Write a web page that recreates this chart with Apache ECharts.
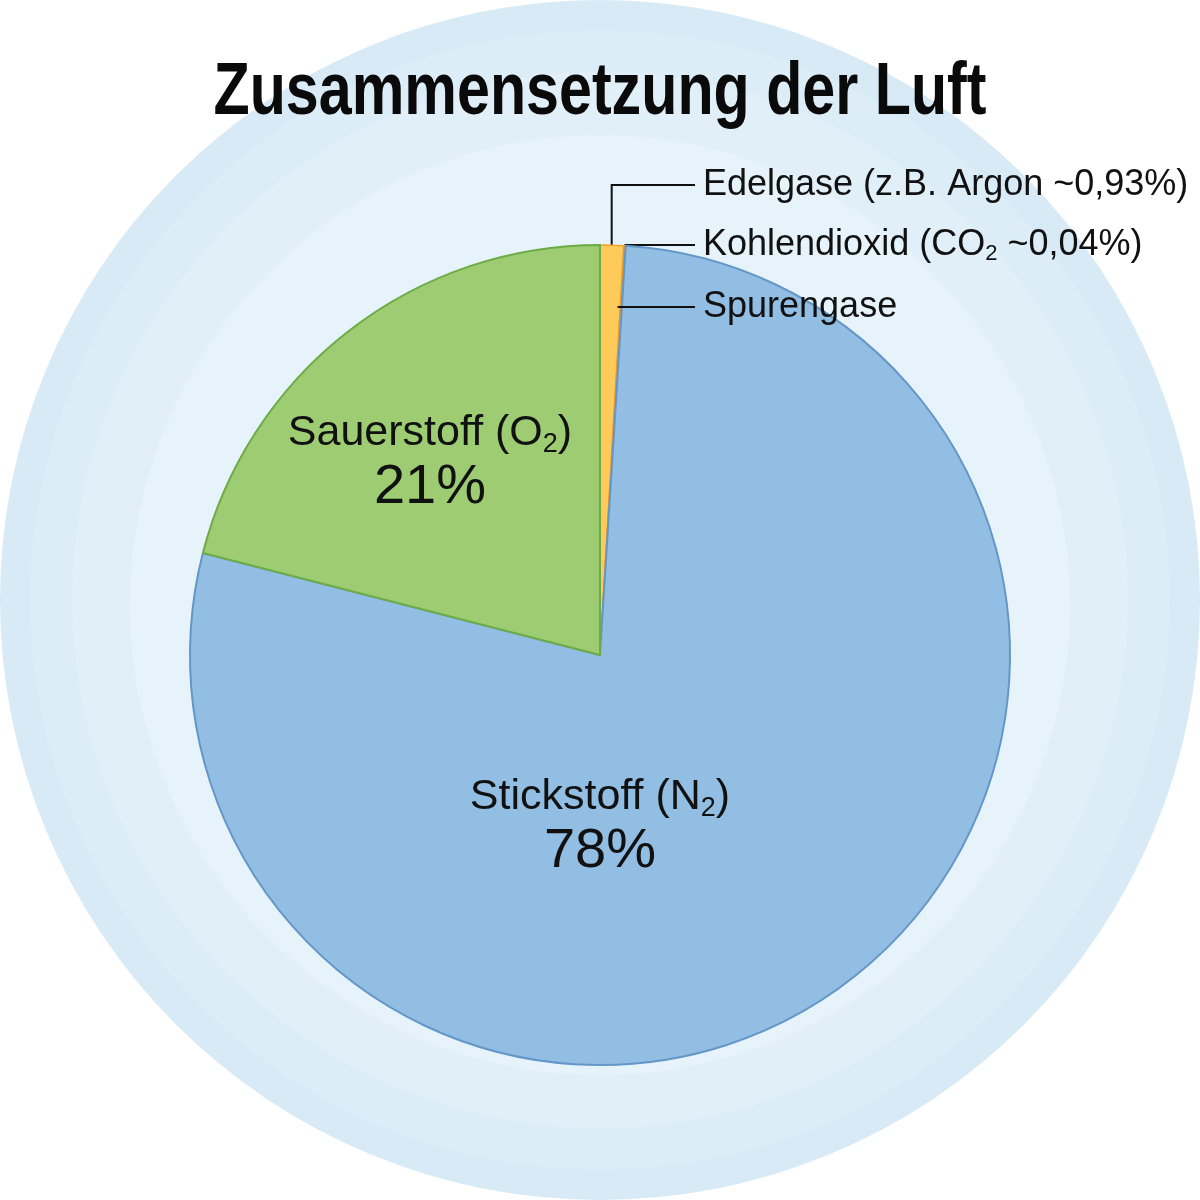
<!DOCTYPE html>
<html>
<head>
<meta charset="utf-8">
<title>Zusammensetzung der Luft</title>
<script src="https://cdn.jsdelivr.net/npm/echarts@6/dist/echarts.min.js"></script>
<style>
  html, body { margin: 0; padding: 0; background: #fff; }
  #chart { width: 1200px; height: 1200px; }
</style>
</head>
<body>
<div id="chart"></div>
<script>
// Werte (Volumenanteil in %), im Uhrzeigersinn ab 12 Uhr
var gasNames = ['Edelgase', 'Kohlendioxid', 'Spurengase', 'Stickstoff', 'Sauerstoff'];
var gasValues = [0.93, 0.04, 0.03, 78, 21];
var gasColors = ['#fecb5a', '#f4ab3a', '#f6b440', '#93bee4', '#9dcc72'];
var gasBorders = ['#efa431', '#e8962a', '#e8962a', '#6497c8', '#6cab46'];
// Beschriftungen, "_2" = tiefgestellte 2
var gasLabels = [
  'Edelgase (z.B. Argon ~0,93%)',
  'Kohlendioxid (CO_2 ~0,04%)',
  'Spurengase',
  'Stickstoff (N_2)',
  'Sauerstoff (O_2)'
];

var FONT = '"Liberation Sans", Arial, Helvetica, sans-serif';
var cx = 600, cy = 655, R = 410;
var labelX = 703;
var labelY = [185, 245, 307];

function richText(str) {
  return '{n|' + str.replace('_2', '}{s|2}{n|') + '}';
}

var total = gasValues.reduce(function (a, b) { return a + b; }, 0);
function midAngle(i) {
  var before = 0;
  for (var k = 0; k < i; k++) before += gasValues[k];
  return (before + gasValues[i] / 2) / total * Math.PI * 2;
}

// Punkt auf der Winkelhalbierenden eines Segments bei gegebener Höhe y
function pointAtY(i, y) {
  var a = midAngle(i);
  var r = (cy - y) / Math.cos(a);
  return [cx + r * Math.sin(a), y];
}

var data = gasNames.map(function (name, i) {
  var inner = i >= 3;
  return {
    name: name,
    value: gasValues[i],
    itemStyle: { color: gasColors[i], borderColor: gasBorders[i], borderWidth: inner ? 2 : 1.5 },
    label: inner ? {
      position: 'inside',
      formatter: richText(gasLabels[i]) + '\n{p|' + gasValues[i] + '%}',
      rich: {
        n: { fontFamily: FONT, fontSize: 43, lineHeight: 50, color: '#111' },
        s: { fontFamily: FONT, fontSize: 27, lineHeight: 16, color: '#111', verticalAlign: 'bottom' },
        p: { fontFamily: FONT, fontSize: 56, lineHeight: 60, color: '#111' }
      }
    } : {
      position: 'outside',
      formatter: richText(gasLabels[i])
    },
    // Linie für Spurengase wird unten als Grafik ergänzt
    labelLine: { show: i < 2 }
  };
});

var chart = echarts.init(document.getElementById('chart'));

var spurStart = pointAtY(2, labelY[2]);

chart.setOption({
  backgroundColor: '#ffffff',
  animation: false,
  graphic: [
    { type: 'circle', z: 0, silent: true, shape: { cx: 600, cy: 600, r: 600 }, style: { fill: '#d8eaf6' } },
    { type: 'circle', z: 0, silent: true, shape: { cx: 600, cy: 600, r: 570 }, style: { fill: '#dcedf8' } },
    { type: 'circle', z: 0, silent: true, shape: { cx: 600, cy: 600, r: 528 }, style: { fill: '#e1eff9' } },
    { type: 'circle', z: 0, silent: true, shape: { cx: 600, cy: 605, r: 470 }, style: { fill: '#e7f3fb' } },
    {
      type: 'text', z: 10, silent: true,
      x: 600, y: 94, scaleX: 0.8,
      style: {
        text: 'Zusammensetzung der Luft',
        font: 'bold 74px ' + FONT,
        fill: '#0a0a0a',
        align: 'center',
        verticalAlign: 'middle'
      }
    },
    {
      type: 'polyline', z: 10, silent: true,
      shape: { points: [[spurStart[0] - 4, labelY[2]], [labelX - 8, labelY[2]]] },
      style: { stroke: '#111', lineWidth: 2, fill: null }
    }
  ],
  series: [{
    type: 'pie',
    center: [cx, cy],
    radius: [0, R],
    startAngle: 90,
    clockwise: true,
    avoidLabelOverlap: false,
    label: {
      show: true,
      color: '#111',
      rich: {
        n: { fontFamily: FONT, fontSize: 36, lineHeight: 40, color: '#111' },
        s: { fontFamily: FONT, fontSize: 22, lineHeight: 14, color: '#111', verticalAlign: 'bottom' }
      }
    },
    labelLine: {
      show: true,
      showAbove: true,
      lineStyle: { color: '#111', width: 2 }
    },
    labelLayout: function (p) {
      var i = p.dataIndex;
      var a = midAngle(i);
      if (i === 0) {
        var x0 = cx + (R - 10) * Math.sin(a);
        return { x: labelX, y: labelY[0], align: 'left', verticalAlign: 'middle',
          labelLinePoints: [[x0, cy - (R - 10) * Math.cos(a)], [x0, labelY[0]], [labelX - 8, labelY[0]]] };
      }
      if (i === 1) {
        var x1 = cx + R * Math.sin(a);
        return { x: labelX, y: labelY[1], align: 'left', verticalAlign: 'middle',
          labelLinePoints: [[x1, labelY[1]], [660, labelY[1]], [labelX - 8, labelY[1]]] };
      }
      if (i === 2) {
        return { x: labelX, y: labelY[2], align: 'left', verticalAlign: 'middle' };
      }
      if (i === 3) return { x: cx, y: cy + 172, align: 'center', verticalAlign: 'middle' };
      return { x: cx - 170, y: cy - 192, align: 'center', verticalAlign: 'middle' };
    },
    data: data
  }]
});
</script>
</body>
</html>
